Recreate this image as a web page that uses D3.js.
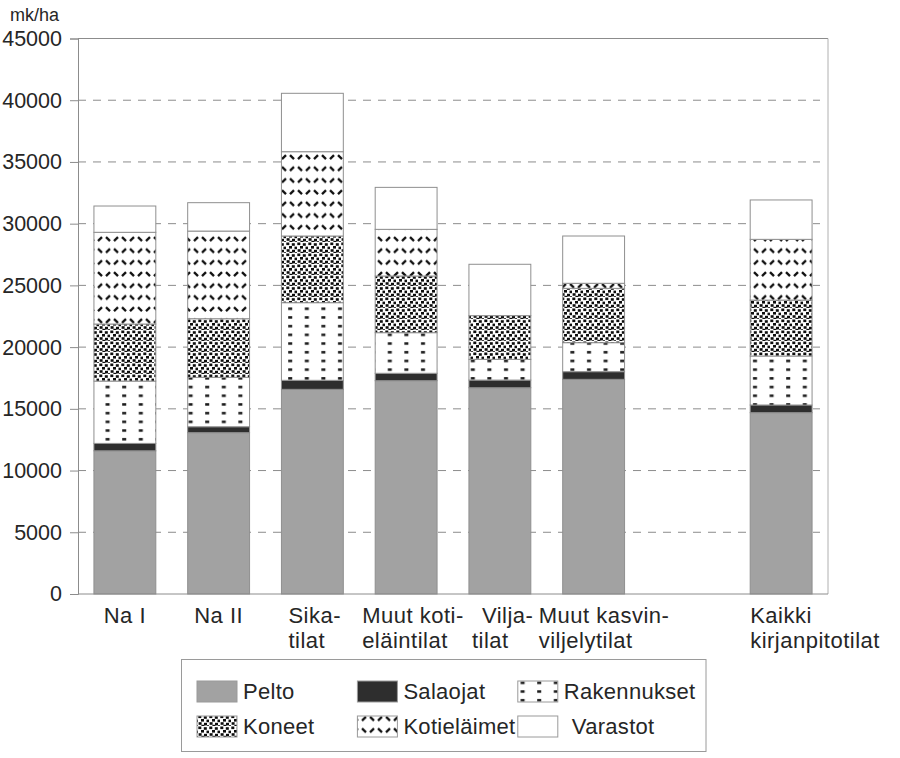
<!DOCTYPE html>
<html><head><meta charset="utf-8">
<script src="https://cdn.jsdelivr.net/npm/d3@7/dist/d3.min.js"></script>
<style>
body{margin:0;background:#fff}
text{font-family:"Liberation Sans",Arial,sans-serif;fill:#262626}
</style>
</head><body>
<svg id="chart" width="900" height="758"></svg>
<script>
// ---- data ----
const categories = ["Na I","Na II","Sika-tilat","Muut kotieläintilat","Viljatilat","Muut kasvinviljelytilat","","Kaikki kirjanpitotilat"];
const categoryLines = [["Na I"],["Na II"],["Sika-","tilat"],["Muut koti-","eläintilat"],["Vilja-","tilat"],["Muut kasvin-","viljelytilat"],[],["Kaikki","kirjanpitotilat"]];
const seriesNames = ["Pelto","Salaojat","Rakennukset","Koneet","Kotieläimet","Varastot"];
const pelto       = [11600,13070,16580,17280,16710,17390,0,14690];
const salaojat    = [600,480,730,600,620,620,0,620];
const rakennukset = [5050,4000,6290,3290,1680,2350,0,3970];
const koneet      = [4620,4750,5400,4590,3540,4400,0,4530];
const kotielaimet = [7430,7100,6830,3780,0,410,0,4920];
const varastot    = [2130,2300,4730,3400,4160,3830,0,3190];
const yTicks = [0,5000,10000,15000,20000,25000,30000,35000,40000,45000];
const yUnit = "mk/ha";

(function(){
// ---- layout ----
const svg = d3.select("#chart");
const pl = 78, pr = 828, pt = 38.5, pb = 594;
const x = d3.scaleBand().domain(d3.range(categories.length)).range([pl, pr]).paddingInner(0.34).paddingOuter(0.17);
const y = d3.scaleLinear().domain([0, 45000]).range([pb, pt]);
// horizontal placement of wrapped category label lines (start offset from band centre; null = centred)
const labelDx = [[null],[null],[-24,-24],[-44,-44],[-18,-28],[-55,-55],[],[-31,-31]];

// patterns
const defs = svg.append("defs");
function pat(id, w, h, draw){
  const p = defs.append("pattern").attr("id", id).attr("patternUnits","userSpaceOnUse").attr("width", w).attr("height", h);
  p.append("rect").attr("width", w).attr("height", h).attr("fill", "#fff");
  draw(p);
}
pat("pRak", 16.6, 8.7, p => {
  p.append("rect").attr("x", 6).attr("y", 3).attr("width", 4).attr("height", 2.5).attr("fill", "#1a1a1a");
});
pat("pKon", 11, 11, p => {
  [[0.3,0.5],[5.8,1.2],[3,4],[8.5,4.6],[0.6,7.2],[6,7.8],[3.4,9.8],[9,10.2]].forEach(([a,b]) =>
    p.append("rect").attr("x", a).attr("y", b).attr("width", 3).attr("height", 2.6).attr("fill", "#0d0d0d"));
});
pat("pKot", 16, 23.4, p => {
  const st = s => s.attr("stroke", "#111").attr("stroke-width", 2.3).attr("stroke-linecap","butt");
  st(p.append("line").attr("x1", 2).attr("y1", 7).attr("x2", 6).attr("y2", 3));
  st(p.append("line").attr("x1", 10).attr("y1", 3).attr("x2", 14).attr("y2", 7));
  st(p.append("line").attr("x1", 2).attr("y1", 14.7).attr("x2", 6).attr("y2", 18.7));
  st(p.append("line").attr("x1", 10).attr("y1", 18.7).attr("x2", 14).attr("y2", 14.7));
});
const fills = ["#a2a2a2","#2e2e2e","url(#pRak)","url(#pKon)","url(#pKot)","#ffffff"];

// gridlines
svg.append("g").selectAll("line").data(yTicks.filter(t => t > 0 && t < 45000)).join("line")
  .attr("x1", pl).attr("x2", pr - 8).attr("y1", d => y(d)).attr("y2", d => y(d))
  .attr("stroke", "#8c8c8c").attr("stroke-width", 1).attr("stroke-dasharray", "8,7");

// frame
svg.append("line").attr("x1", pl).attr("x2", pr).attr("y1", pt).attr("y2", pt).attr("stroke", "#8c8c8c");
svg.append("line").attr("x1", pr).attr("x2", pr).attr("y1", pt).attr("y2", pb).attr("stroke", "#b0b0b0");

// bars
const table = categories.map((c, i) => ({i, Pelto: pelto[i], Salaojat: salaojat[i], Rakennukset: rakennukset[i], Koneet: koneet[i], "Kotieläimet": kotielaimet[i], Varastot: varastot[i]}));
const stack = d3.stack().keys(seriesNames)(table);
svg.append("g").selectAll("g").data(stack).join("g")
  .attr("fill", (d, k) => fills[k])
  .selectAll("rect").data(d => d.filter(s => s[1] - s[0] > 0)).join("rect")
  .attr("x", d => x(d.data.i)).attr("width", x.bandwidth())
  .attr("y", d => y(d[1])).attr("height", d => y(d[0]) - y(d[1]))
  .attr("stroke", "#8f8f8f").attr("stroke-width", 1);

// y axis
const yAxis = svg.append("g").attr("transform", `translate(${pl},0)`)
  .call(d3.axisLeft(y).tickValues(yTicks).tickSize(8).tickPadding(8).tickFormat(d3.format("d")));
yAxis.select(".domain").attr("stroke", "#8c8c8c");
yAxis.selectAll(".tick line").attr("stroke", "#8c8c8c");
yAxis.selectAll("text").attr("font-size", 21.5).attr("fill", "#262626").style("font-family", '"Liberation Sans",Arial,sans-serif');

// x axis baseline
svg.append("line").attr("x1", pl).attr("x2", pr).attr("y1", pb).attr("y2", pb).attr("stroke", "#8c8c8c");

// unit label
svg.append("text").attr("x", 10).attr("y", 21).attr("font-size", 18).text(yUnit);

// category labels
const lab = svg.append("g");
categoryLines.forEach((lines, i) => {
  const cx = x(i) + x.bandwidth() / 2;
  lines.forEach((ln, j) => {
    const dx = labelDx[i][j];
    lab.append("text").attr("x", dx == null ? cx : cx + dx).attr("y", 623 + j * 25).attr("font-size", 22)
      .attr("letter-spacing", 0.5)
      .attr("text-anchor", dx == null ? "middle" : "start").text(ln);
  });
});

// legend
const lg = svg.append("g");
lg.append("rect").attr("x", 181.5).attr("y", 659.5).attr("width", 524.5).attr("height", 92)
  .attr("fill", "#fff").attr("stroke", "#9a9a9a");
seriesNames.forEach((n, k) => {
  const col = k % 3, row = Math.floor(k / 3);
  const sx = 197 + col * 160.4, sy = 681 + row * 35;
  lg.append("rect").attr("x", sx).attr("y", sy).attr("width", 40).attr("height", 21)
    .attr("fill", fills[k]).attr("stroke", "#9a9a9a").attr("stroke-width", 1);
  lg.append("text").attr("x", sx + 46 + (k === 5 ? 8 : 0)).attr("y", sy + 18).attr("font-size", 22)
    .attr("letter-spacing", 0.3).text(n);
});
})();
</script>
</body></html>
